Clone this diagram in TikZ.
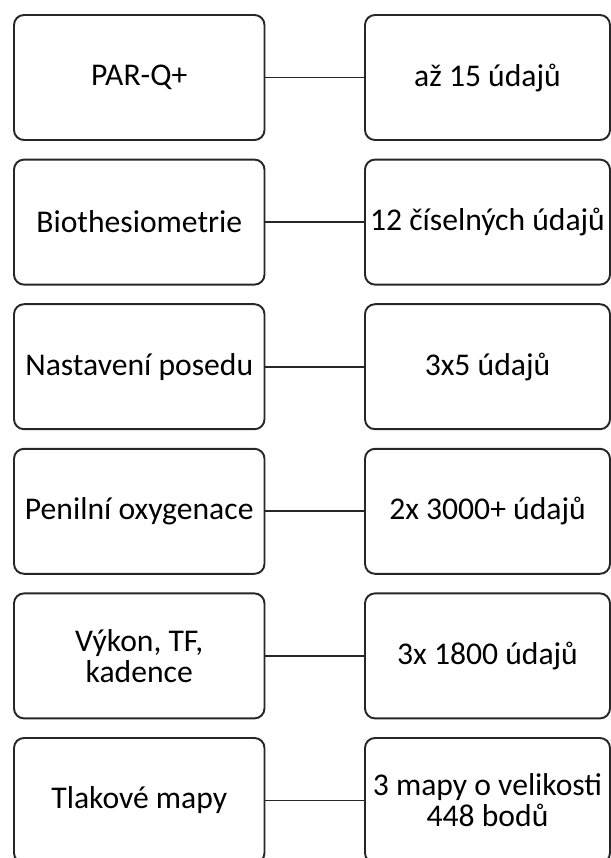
\documentclass[tikz,border=0pt]{standalone}
\usepackage{fontspec}
\setmainfont{Carlito}
\usepackage{xcolor}
\usepackage{tikz}
\usetikzlibrary{positioning}

\begin{document}
\begin{tikzpicture}[
    srcbox/.style={draw=black!85, line width=1.1pt, rounded corners=0.2cm, minimum width=5.01cm, minimum height=2.5cm, inner sep=1pt, align=center, font=\fontsize{18}{17.6}\selectfont},
    valbox/.style={srcbox, minimum width=4.9cm},
    link/.style={draw=black!85, line width=1pt}
]
    \useasboundingbox (0,0) rectangle (12.22,-17.16);

    % Sources
    \node[srcbox] (parq) at (2.785, -1.55) {PAR-Q+};
    \node[srcbox] (bio) at (2.785, -4.442) {Biothesiometrie};
    \node[srcbox] (posed) at (2.785, -7.334) {Nastavení posedu};
    \node[srcbox] (oxy) at (2.785, -10.226) {Penilní oxygenace};
    \node[srcbox] (vykon) at (2.785, -13.118) {Výkon, TF,\\kadence};
    \node[srcbox] (tlak) at (2.785, -16.01) {Tlakové mapy};

    % Data counts
    \node[valbox] (nparq) at (9.75, -1.55) {až 15 údajů};
    \node[valbox] (nbio) at (9.75, -4.442) {12 číselných údajů};
    \node[valbox] (nposed) at (9.75, -7.334) {3x5 údajů};
    \node[valbox] (noxy) at (9.75, -10.226) {2x 3000+ údajů};
    \node[valbox] (nvykon) at (9.75, -13.118) {3x 1800 údajů};
    \node[valbox] (ntlak) at (9.75, -16.01) {3 mapy o velikosti\\448 bodů};

    \draw[link] (parq) -- (nparq);
    \draw[link] (bio) -- (nbio);
    \draw[link] (posed) -- (nposed);
    \draw[link] (oxy) -- (noxy);
    \draw[link] (vykon) -- (nvykon);
    \draw[link] (tlak) -- (ntlak);
\end{tikzpicture}
\end{document}
